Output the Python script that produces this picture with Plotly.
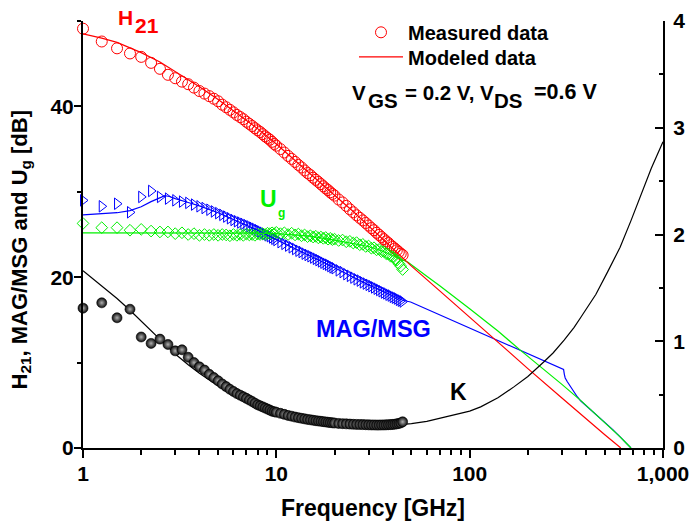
import plotly.graph_objects as go

# ---------------- data ----------------
freq_meas = [1.0, 1.25, 1.5, 1.75, 2.0, 2.25, 2.5, 2.75, 3.0, 3.25, 3.5, 3.75, 4.0, 4.25, 4.5, 4.75,
             5.0, 5.25, 5.5, 5.75, 6.0, 6.25, 6.5, 6.75, 7.0, 7.25, 7.5, 7.75, 8.0, 8.25, 8.5, 8.75,
             9.0, 9.25, 9.5, 9.75, 10.0,
             10.5, 11.0, 11.5, 12.0, 12.5, 13.0, 13.5, 14.0, 14.5, 15.0, 15.5, 16.0, 16.5, 17.0, 17.5,
             18.0, 18.5, 19.0, 19.5, 20.0,
             21, 22, 23, 24, 25, 26, 27, 28, 29, 30, 31, 32, 33, 34, 35, 36, 37, 38, 39, 40, 41, 42,
             43, 44, 45]

h21_meas = [49.1, 47.6, 46.8, 46.2, 45.8, 45.1, 44.4, 43.7, 43.3, 42.9, 42.6, 42.2, 41.8, 41.5, 41.2, 40.9,
            40.6, 40.2, 39.9, 39.6, 39.3, 39.0, 38.75, 38.5, 38.2, 37.95, 37.7, 37.45, 37.2, 37.0, 36.75, 36.5,
            36.3, 36.1, 35.85, 35.6, 35.4,
            35.0, 34.6, 34.2, 33.85, 33.5, 33.15, 32.85, 32.5, 32.2, 31.95, 31.65, 31.4, 31.15, 30.9, 30.65,
            30.4, 30.2, 29.95, 29.75, 29.55,
            29.1, 28.75, 28.35, 27.95, 27.6, 27.25, 26.95, 26.65, 26.35, 26.05, 25.75, 25.5, 25.2, 24.95,
            24.7, 24.45, 24.2, 24.0, 23.75, 23.55, 23.35, 23.15, 22.95, 22.75, 22.6]

ug_meas = [26.3, 25.8, 25.8, 25.5, 25.6, 25.4, 25.3, 25.3, 25.1, 25.2, 25.0, 25.1, 24.9, 25.0, 24.9, 25.0,
           24.9, 25.0, 24.95, 24.85, 25.0, 24.9, 25.0, 24.9, 25.05, 24.95, 25.0, 24.9, 25.05, 25.0, 25.1, 25.0,
           25.15, 25.1, 25.2, 25.1, 25.25,
           25.1, 25.2, 25.0, 25.15, 24.95, 25.05, 24.85, 24.95, 24.75, 24.85, 24.7, 24.8, 24.6, 24.7, 24.55,
           24.65, 24.45, 24.55, 24.4, 24.45,
           24.3, 24.35, 24.15, 24.2, 24.0, 24.05, 23.8, 23.85, 23.6, 23.65, 23.4, 23.45, 23.2, 23.25,
           23.0, 23.0, 22.75, 22.7, 22.45, 22.4, 22.1, 22.0, 21.6, 21.3, 20.9]

mag_meas = [29.0, 28.3, 28.6, 27.6, 29.4, 30.1, 29.4, 29.2, 29.0, 28.85, 28.7, 28.5, 28.3, 28.1, 27.9, 27.7,
            27.5, 27.3, 27.1, 26.9, 26.7, 26.55, 26.4, 26.25, 26.1, 25.95, 25.8, 25.65, 25.5, 25.35, 25.2, 25.05,
            24.9, 24.8, 24.65, 24.5, 24.35,
            24.1, 23.9, 23.7, 23.5, 23.3, 23.1, 22.95, 22.75, 22.6, 22.45, 22.3, 22.15, 22.0, 21.85, 21.7,
            21.55, 21.45, 21.3, 21.15, 21.05,
            20.8, 20.6, 20.35, 20.15, 19.95, 19.75, 19.6, 19.4, 19.25, 19.1, 18.95, 18.8, 18.65, 18.5,
            18.35, 18.2, 18.1, 17.95, 17.85, 17.7, 17.6, 17.5, 17.35, 17.25, 17.15]

k_meas = [1.31, 1.36, 1.22, 1.30, 1.04, 0.98, 1.02, 0.97, 0.91, 0.92, 0.85, 0.80, 0.76, 0.73, 0.69, 0.66,
          0.63, 0.60, 0.575, 0.55, 0.53, 0.51, 0.495, 0.48, 0.465, 0.45, 0.435, 0.42, 0.405, 0.395, 0.385, 0.375,
          0.365, 0.355, 0.345, 0.34, 0.335,
          0.325, 0.315, 0.305, 0.298, 0.29, 0.284, 0.278, 0.273, 0.268, 0.264, 0.26, 0.256, 0.253, 0.25, 0.247,
          0.244, 0.241, 0.238, 0.236, 0.234,
          0.23, 0.228, 0.226, 0.224, 0.222, 0.221, 0.22, 0.219, 0.218, 0.217, 0.216, 0.216, 0.215, 0.215,
          0.216, 0.216, 0.217, 0.218, 0.219, 0.221, 0.223, 0.226, 0.23, 0.235, 0.245]

freq_h21_model = [1, 1.25, 1.5, 1.75, 2, 2.5, 3, 3.5, 4, 5, 6, 7, 8, 10, 12, 15, 20, 25, 30, 40, 45, 50,
                  70, 100, 130, 200, 300, 400, 500, 605]
h21_model = [48.5, 48.0, 47.5, 46.9, 46.3, 45.2, 44.1, 43.2, 42.3, 40.8, 39.5, 38.4, 37.4, 35.6, 34.0,
             32.1, 29.6, 27.7, 26.0, 23.4, 22.3, 21.3, 18.4, 15.3, 13.0, 9.3, 5.85, 3.4, 1.55, 0.0]

freq_ug_model = [1, 2, 4, 6, 8, 10, 12, 15, 20, 25, 30, 35, 40, 48, 60, 70, 100, 140, 184, 250, 300,
                 376, 450, 500, 550, 600, 650, 683]
ug_model = [25.2, 25.2, 25.2, 25.2, 25.15, 25.1, 25.0, 24.8, 24.35, 23.95, 23.6, 23.1, 22.55, 21.75,
            20.1, 19.0, 16.3, 13.7, 11.4, 8.95, 7.45, 5.55, 3.95, 3.0, 2.15, 1.3, 0.5, 0.0]

freq_mag_model = [1, 1.25, 1.5, 1.75, 2, 2.25, 2.5, 2.65, 2.8, 3, 3.5, 4, 5, 6, 7, 8, 10, 15, 20, 30, 45,
                  49.5, 306, 309, 312, 320, 335, 347, 360, 376, 400, 450, 500, 550, 600, 650, 683]
mag_model = [27.3, 27.4, 27.55, 27.8, 28.25, 28.85, 29.35, 29.55, 29.45, 29.2, 28.75, 28.35, 27.55, 26.75,
             26.1, 25.5, 24.4, 22.5, 21.1, 19.1, 17.3, 17.1, 9.2, 8.6, 8.2, 7.75, 7.05, 6.5, 6.0, 5.5, 4.95,
             3.95, 3.05, 2.15, 1.3, 0.5, 0.0]

freq_k_model = [1, 1.25, 1.5, 1.75, 2, 2.5, 3, 3.5, 4, 5, 6, 7, 8, 10, 12, 15, 20, 25, 30, 40, 45, 50, 60,
                77, 100, 114, 140, 170, 200, 243, 270, 308, 347, 376, 450, 517, 600, 683, 774, 870, 1000]
k_model = [1.66, 1.52, 1.40, 1.29, 1.19, 1.02, 0.88, 0.78, 0.70, 0.58, 0.49, 0.43, 0.385, 0.33, 0.29,
           0.255, 0.228, 0.215, 0.21, 0.212, 0.218, 0.228, 0.25, 0.295, 0.345, 0.385, 0.47, 0.575, 0.67,
           0.81, 0.89, 1.01, 1.13, 1.225, 1.44, 1.65, 1.88, 2.13, 2.39, 2.62, 2.87]

x_tick_vals = [1, 10, 100, 1000]
x_tick_text = ["1", "10", "100", "1,000"]
x_minor_vals = [2, 3, 4, 5, 6, 7, 8, 9, 20, 30, 40, 50, 60, 70, 80, 90, 200, 300, 400, 500, 600, 700, 800, 900]
y_tick_vals = [0, 20, 40]
y_minor_vals = [10, 30, 50]
y2_tick_vals = [0, 1, 2, 3, 4]
y2_minor_vals = [0.5, 1.5, 2.5, 3.5]

# ---------------- styling ----------------
FONT = "Liberation Sans, Arial, sans-serif"
RED, BLUE, GREEN, BLACK = "#ff0000", "#0000ff", "#00f000", "#000000"

# plot area geometry (px) used to place annotations in paper coords
W, H = 694, 529
ML, MR, MT, MB = 83, 31, 21, 81
PW, PH = W - ML - MR, H - MT - MB


def px(x):
    return (x - ML) / PW


def py(y):
    return (H - MB - y) / PH


fig = go.Figure()

# measured data (markers)
fig.add_trace(go.Scatter(x=freq_meas, y=mag_meas, mode="markers", cliponaxis=False, showlegend=False,
                         marker=dict(symbol="triangle-right-open", size=10, color=BLUE, line=dict(width=1))))
fig.add_trace(go.Scatter(x=freq_meas, y=h21_meas, mode="markers", cliponaxis=False, name="Measured data",
                         legend="legend",
                         marker=dict(symbol="circle-open", size=11, color=RED, line=dict(width=1))))
fig.add_trace(go.Scatter(x=freq_meas, y=ug_meas, mode="markers", cliponaxis=False, showlegend=False,
                         marker=dict(symbol="diamond-open", size=9, color=GREEN, line=dict(width=1))))

# modeled data (lines)
fig.add_trace(go.Scatter(x=freq_mag_model, y=mag_model, mode="lines", showlegend=False,
                         line=dict(color=BLUE, width=1.2)))
fig.add_trace(go.Scatter(x=freq_ug_model, y=ug_model, mode="lines", showlegend=False,
                         line=dict(color=GREEN, width=1.2)))
fig.add_trace(go.Scatter(x=freq_h21_model, y=h21_model, mode="lines", name="Modeled data",
                         legend="legend2", line=dict(color=RED, width=1.2)))

# stability factor K on right axis
fig.add_trace(go.Scatter(x=freq_k_model, y=k_model, mode="lines", yaxis="y2", showlegend=False,
                         line=dict(color=BLACK, width=1.2)))
fig.add_trace(go.Scatter(x=freq_meas, y=k_meas, mode="markers", yaxis="y2", cliponaxis=False,
                         showlegend=False,
                         marker=dict(symbol="circle", size=10, color="#0a0a0a",
                                     gradient=dict(type="radial", color="#b0b0b0"),
                                     line=dict(width=0.6, color="#000000"))))

tickfont = dict(family=FONT, size=21, color=BLACK, weight="bold")

fig.update_layout(
    width=W, height=H,
    margin=dict(l=ML, r=MR, t=MT, b=MB, autoexpand=False),
    paper_bgcolor="white", plot_bgcolor="white",
    font=dict(family=FONT, color=BLACK),
    xaxis=dict(type="log", range=[0, 3], showgrid=False, zeroline=False, automargin=False,
               showline=True, linecolor=BLACK, linewidth=2,
               ticks="outside", ticklen=8, tickwidth=2, tickcolor=BLACK, ticklabelstandoff=-2,
               tickmode="array", tickvals=x_tick_vals, ticktext=x_tick_text, tickfont=tickfont,
               minor=dict(ticks="outside", ticklen=5, tickwidth=1.5, tickcolor=BLACK,
                          tickmode="array", tickvals=x_minor_vals, showgrid=False)),
    yaxis=dict(range=[0, 50], showgrid=False, zeroline=False, automargin=False,
               showline=True, linecolor=BLACK, linewidth=2,
               ticks="outside", ticklen=7, tickwidth=2, tickcolor=BLACK, ticklabelstandoff=-4,
               tickmode="array", tickvals=y_tick_vals, tickfont=tickfont,
               minor=dict(ticks="outside", ticklen=4, tickwidth=1.5, tickcolor=BLACK,
                          tickmode="array", tickvals=y_minor_vals, showgrid=False)),
    yaxis2=dict(range=[0, 4], overlaying="y", side="right", showgrid=False, zeroline=False,
                automargin=False,
                showline=True, linecolor=BLACK, linewidth=2,
                ticks="inside", ticklen=8, tickwidth=2, tickcolor=BLACK,
                tickmode="array", tickvals=y2_tick_vals, tickfont=tickfont, ticklabelstandoff=4,
                minor=dict(ticks="inside", ticklen=4, tickwidth=1.5, tickcolor=BLACK,
                           tickmode="array", tickvals=y2_minor_vals, showgrid=False)),
    legend=dict(x=px(354), y=py(12.8), xanchor="left", yanchor="top", bgcolor="rgba(0,0,0,0)",
                borderwidth=0, itemwidth=44,
                font=dict(family=FONT, size=20, color=BLACK, weight="bold")),
    legend2=dict(x=px(354), y=py(37.3), xanchor="left", yanchor="top", bgcolor="rgba(0,0,0,0)",
                 borderwidth=0, itemwidth=44,
                 font=dict(family=FONT, size=20, color=BLACK, weight="bold")),
)


def label(text, x, y, size, color, xanchor="center", angle=0, pad=1):
    fig.add_annotation(text=text, x=px(x), y=py(y), xref="paper", yref="paper", showarrow=False,
                       xanchor=xanchor, yanchor="middle", textangle=angle, borderpad=pad,
                       font=dict(family=FONT, size=size, color=color, weight="bold"))


# series labels
label("H", 125.5, 17.5, 21, RED)
label("21", 146.5, 25, 21, RED)
label("U", 268.3, 199, 23, GREEN, pad=0)
label("g", 276.5, 213, 12, GREEN, xanchor="left", pad=0)
label("MAG/MSG", 373, 329, 23.5, BLUE)
label("K", 458.3, 391.7, 23, BLACK)

# bias condition
label("V", 350, 92.5, 20.5, BLACK, xanchor="left")
label("GS", 366, 100.8, 20.5, BLACK, xanchor="left")
label("= 0.2 V, V", 402.5, 92.5, 20.5, BLACK, xanchor="left")
label("DS", 492, 100.8, 20.5, BLACK, xanchor="left")
label("=0.6 V", 531.5, 92.5, 21.5, BLACK, xanchor="left")

# axis titles
label("Frequency [GHz]", 373, 508, 23, BLACK)
label("H<sub>21</sub>, MAG/MSG and U<sub>g</sub> [dB]", 20, 249.5, 22, BLACK, angle=-90)

# the page body has a default 8px margin; remove it so the figure fills the window
fig.write_html("out.html", config={"displayModeBar": False},
               post_script="document.body.style.margin='0';")
